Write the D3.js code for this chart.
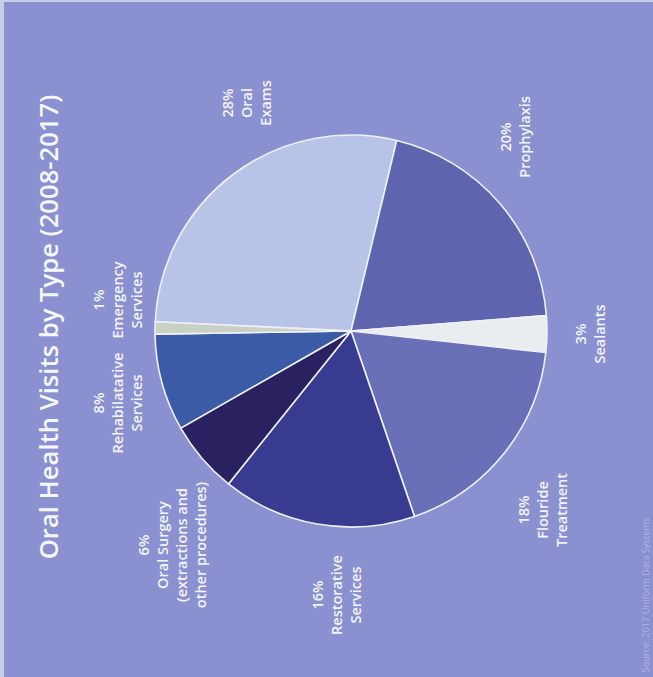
<!DOCTYPE html>
<html>
<head>
<meta charset="utf-8">
<script src="https://cdn.jsdelivr.net/npm/d3@7"></script>
<style>
  html, body { margin: 0; padding: 0; background: #8b91d0; }
  svg { display: block; }
  text { font-family: "Open Sans", "Noto Sans", sans-serif; }
</style>
</head>
<body>
<svg id="chart" width="653" height="677"></svg>
<script>
// ---- data ----
const categories = ["Oral Exams", "Prophylaxis", "Sealants", "Flouride Treatment",
  "Restorative Services", "Oral Surgery (extractions and other procedures)",
  "Rehabilatative Services", "Emergency Services"];
const values = [28, 20, 3, 18, 16, 6, 8, 1];
const labelLines = [
  ["28%", "Oral", "Exams"],
  ["20%", "Prophylaxis"],
  ["3%", "Sealants"],
  ["18%", "Flouride", "Treatment"],
  ["16%", "Restorative", "Services"],
  ["6%", "Oral Surgery", "(extractions and", "other procedures)"],
  ["8%", "Rehabilatative", "Services"],
  ["1%", "Emergency", "Services"]
];
const titleText = "Oral Health Visits by Type (2008-2017)";
const sourceText = "Source: 2017 Uniform Data Systems";

// ---- styling / layout ----
const W = 653, H = 677;
const bg = "#8b91d0";
const colors = ["#b8c4e7", "#5e64ae", "#e9edf0", "#6a70b8", "#383b8f", "#2a2260", "#3b5ba7", "#c9d0c4"];
const cx = 351, cy = 331, R = 196;
const startDeg = -87.3;
// label anchor: x of first line, y center
const labelPos = [
  [227, 103], [505, 137], [580, 334], [523, 510],
  [317, 595], [143, 545], [98, 403], [98, 300]
];
const lineGap = 19;

const svg = d3.select("#chart");
svg.append("rect").attr("width", W).attr("height", H).attr("fill", bg);
// light scan edge at left/top
svg.append("rect").attr("x", 0).attr("y", 0).attr("width", 4).attr("height", H).attr("fill", "#c9cdea");
svg.append("rect").attr("x", 0).attr("y", 0).attr("width", W).attr("height", 2).attr("fill", "#c9cdea");

const pie = d3.pie().sort(null).value(d => d)
  .startAngle(startDeg * Math.PI / 180)
  .endAngle((startDeg + 360) * Math.PI / 180);
const arc = d3.arc().innerRadius(0).outerRadius(R);

const g = svg.append("g").attr("transform", `translate(${cx},${cy})`);
g.selectAll("path.slice")
  .data(pie(values))
  .join("path")
  .attr("class", "slice")
  .attr("d", arc)
  .attr("fill", (d, i) => colors[i])
  .attr("stroke", "#eef0fa")
  .attr("stroke-width", 1.6)
  .attr("stroke-linejoin", "round");

// labels (rotated -90)
labelLines.forEach((lines, i) => {
  const [x0, y0] = labelPos[i];
  lines.forEach((ln, j) => {
    const x = x0 + j * lineGap;
    svg.append("text")
      .attr("transform", `translate(${x},${y0}) rotate(-90)`)
      .attr("text-anchor", "middle")
      .attr("dominant-baseline", "central")
      .attr("fill", "#f4f5fb")
      .attr("font-size", 14.5)
      .attr("font-weight", 600)
      .text(ln);
  });
});

// title
const title = svg.append("text")
  .attr("transform", `translate(48,327) rotate(-90)`)
  .attr("text-anchor", "middle")
  .attr("dominant-baseline", "central")
  .attr("fill", "#f6f7fc")
  .attr("font-size", 26)
  .attr("font-weight", 600)
  .text(titleText);
const tl = title.node().getComputedTextLength();
title.attr("font-size", 26 * 465 / tl);

// source
const src = svg.append("text")
  .attr("transform", `translate(645,595) rotate(-90)`)
  .attr("text-anchor", "middle")
  .attr("dominant-baseline", "central")
  .attr("fill", "#aeb3e2")
  .attr("font-size", 11)
  .attr("font-weight", 400)
  .text(sourceText);
const sl = src.node().getComputedTextLength();
src.attr("font-size", 11 * 155 / sl);
</script>
</body>
</html>
